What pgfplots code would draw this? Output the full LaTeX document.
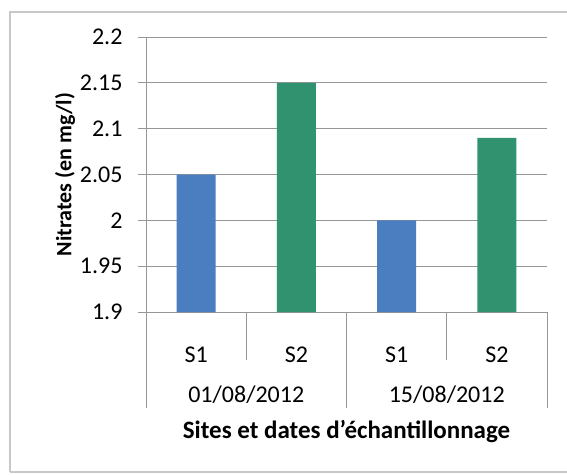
\documentclass[border=0pt]{standalone}
\usepackage{pgfplots}
\pgfplotsset{compat=1.18}
\usepackage{fontspec}
\setmainfont{Carlito}
\definecolor{barblue}{RGB}{74,126,193}
\definecolor{bargreen}{RGB}{48,146,110}
\definecolor{gridgray}{RGB}{150,150,150}
\definecolor{framegray}{RGB}{200,200,200}
\begin{document}
\begin{tikzpicture}[x=1pt,y=1pt]
\useasboundingbox (0,0) rectangle (567,474);
% chart frame
\draw[framegray,line width=1.2pt] (10,474-472) -- (10,474-12) -- (570,474-12);
\draw[framegray,line width=1.2pt] (10,474-472) -- (570,474-472);
\begin{axis}[
  at={(146pt,162pt)}, anchor=south west,
  scale only axis, width=401pt, height=275pt,
  xmin=-0.5, xmax=3.5, ymin=1.9, ymax=2.2,
  ytick={1.9,1.95,...,2.2},
  yticklabels={1.9,1.95,2,2.05,2.1,2.15,2.2},
  xtick={0,1,2,3}, xticklabels={S1,S2,S1,S2},
  x tick label style={anchor=center, yshift=-35pt},
  major x tick style={draw=none},
  ymajorgrids, grid style={gridgray,line width=0.8pt},
  axis x line*=bottom, axis y line*=left,
  axis line style={gridgray,line width=0.8pt,-},
  y tick style={gridgray,line width=0.8pt},
  tick align=outside, major tick length=8pt,
  y tick label style={anchor=east, xshift=-12pt},
  /pgf/number format/assume math mode=true,
  ticklabel style={font=\fontsize{24}{24}\selectfont},
  ylabel={\textbf{Nitrates (en mg/l)}},
  ylabel style={font=\fontsize{22}{22}\selectfont, anchor=center, at={(rel axis cs:0,0.5)}, yshift=81pt},
  clip=false,
  ybar, bar width=39pt, bar shift=0pt,
]
\addplot[fill=barblue, draw=none] coordinates {(0,2.05) (2,2.0)};
\addplot[fill=bargreen, draw=none] coordinates {(1,2.15) (3,2.09)};
% category separators
\draw[gridgray,line width=0.8pt] (axis cs:0.5,1.9) -- ([yshift=-48pt]axis cs:0.5,1.9);
\draw[gridgray,line width=0.8pt] (axis cs:2.5,1.9) -- ([yshift=-48pt]axis cs:2.5,1.9);
\draw[gridgray,line width=0.8pt] (axis cs:-0.5,1.9) -- ([yshift=-96pt]axis cs:-0.5,1.9);
\draw[gridgray,line width=0.8pt] (axis cs:1.5,1.9) -- ([yshift=-96pt]axis cs:1.5,1.9);
\draw[gridgray,line width=0.8pt] (axis cs:3.5,1.9) -- ([yshift=-96pt]axis cs:3.5,1.9);
% date labels and axis title
\node[font=\fontsize{24}{24}\selectfont] at ([yshift=-83pt]axis cs:0.5,1.9) {01/08/2012};
\node[font=\fontsize{24}{24}\selectfont] at ([yshift=-83pt]axis cs:2.5,1.9) {15/08/2012};
\node[font=\fontsize{25}{25}\selectfont\bfseries] at ([yshift=-120pt]axis cs:1.5,1.9) {Sites et dates d’échantillonnage};
\end{axis}
\end{tikzpicture}
\end{document}
